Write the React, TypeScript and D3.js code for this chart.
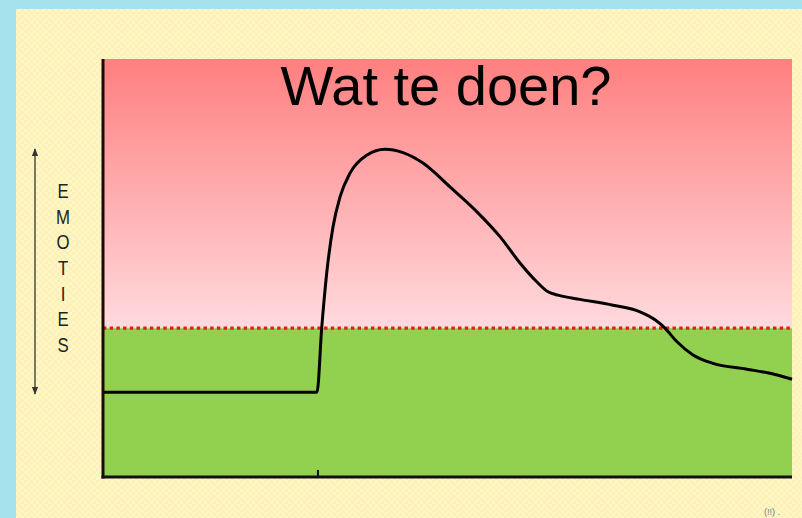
import React from "react";
import * as d3 from "d3";

const W = 802;
const H = 518;

// Emotion curve over time (time 0..100, emotion 0..100)
const timeValues = [0, 31.06, 31.74, 32.47, 33.38, 34.4, 35.85, 38.27, 40.93, 43.54, 46.44, 50.36, 54.24, 57.62, 60.52, 62.95, 64.59, 66.04, 69.23, 74.02, 77.94, 80.12, 81.57, 83.27, 85.63, 88.53, 93.43, 96.81, 100];
const emotionValues = [20.3, 20.3, 35.6, 48.8, 59.8, 67.0, 72.7, 77.0, 78.4, 77.6, 75.1, 69.4, 63.5, 57.5, 51.2, 46.7, 44.3, 43.5, 42.5, 41.1, 39.5, 37.6, 35.6, 32.4, 29.2, 27.2, 25.8, 24.8, 23.4];
const threshold = [35.6];
const xTicks = [31.2];
const title = ["Wat te doen?"];
const axisLetters = ["E", "M", "O", "T", "I", "E", "S"];

export default function App() {
  const left = 103, right = 792, top = 59, bottom = 477;
  const x = d3.scaleLinear().domain([0, 100]).range([left, right]);
  const y = d3.scaleLinear().domain([0, 100]).range([bottom, top]);
  const pts: [number, number][] = timeValues.map((t, i) => [t, emotionValues[i]]);
  const line = d3
    .line<[number, number]>()
    .x((d) => x(d[0]))
    .y((d) => y(d[1]))
    .curve(d3.curveMonotoneX);
  const th = y(threshold[0]);
  const letterY = d3.scaleLinear().domain([0, axisLetters.length - 1]).range([198, 352]);

  return (
    <svg
      width={W}
      height={H}
      style={{ position: "absolute", left: 0, top: 0, display: "block" }}
      fontFamily="'Liberation Sans', Arial, sans-serif"
    >
      <defs>
        <pattern id="checks" width="6" height="6" patternUnits="userSpaceOnUse">
          <rect width="6" height="6" fill="#fff7c6" />
          <rect width="3" height="3" fill="#fdf0b6" />
          <rect x="3" y="3" width="3" height="3" fill="#fdf0b6" />
        </pattern>
        <linearGradient id="redGrad" x1="0" y1="0" x2="0" y2="1">
          <stop offset="0" stopColor="#ff7f7f" />
          <stop offset="1" stopColor="#ffdade" />
        </linearGradient>
        <marker id="arrow" viewBox="0 0 10 10" refX="9" refY="5" markerWidth="6" markerHeight="6" orient="auto-start-reverse">
          <path d="M0,1 L10,5 L0,9 z" fill="#333" />
        </marker>
      </defs>
      <rect width={W} height={H} fill="#a6e2ee" />
      <rect x={16} y={9} width={W - 16} height={H - 9} fill="url(#checks)" />

      <rect x={left} y={top} width={right - left} height={th - top} fill="url(#redGrad)" />
      <rect x={left} y={th} width={right - left} height={bottom - th} fill="#92d050" />
      <line x1={left} x2={right} y1={th} y2={th} stroke="#dc1e14" strokeWidth={3.2} strokeDasharray="3.4 3.3" />

      <path d={line(pts) || ""} fill="none" stroke="#000" strokeWidth={3} strokeLinejoin="round" />

      <line x1={left} x2={left} y1={top} y2={bottom + 1.5} stroke="#1a0a0a" strokeWidth={3} />
      <line x1={left - 1.5} x2={right} y1={bottom} y2={bottom} stroke="#111" strokeWidth={3} />
      {xTicks.map((t, i) => (
        <line key={i} x1={x(t)} x2={x(t)} y1={bottom - 7} y2={bottom} stroke="#111" strokeWidth={2} />
      ))}

      <text x={446} y={105} textAnchor="middle" fontSize={56} fill="#000">
        {title[0]}
      </text>

      <line x1={35} x2={35} y1={149} y2={394} stroke="#333" strokeWidth={1.3} markerStart="url(#arrow)" markerEnd="url(#arrow)" />
      {axisLetters.map((l, i) => (
        <text
          key={i}
          x={0}
          y={0}
          transform={`translate(63,${letterY(i)}) scale(0.8,1)`}
          textAnchor="middle"
          fontSize={21}
          fill="#222"
        >
          {l}
        </text>
      ))}
      <text x={772} y={515} textAnchor="middle" fontSize={9} fill="#777">
        (!!) .
      </text>
    </svg>
  );
}
